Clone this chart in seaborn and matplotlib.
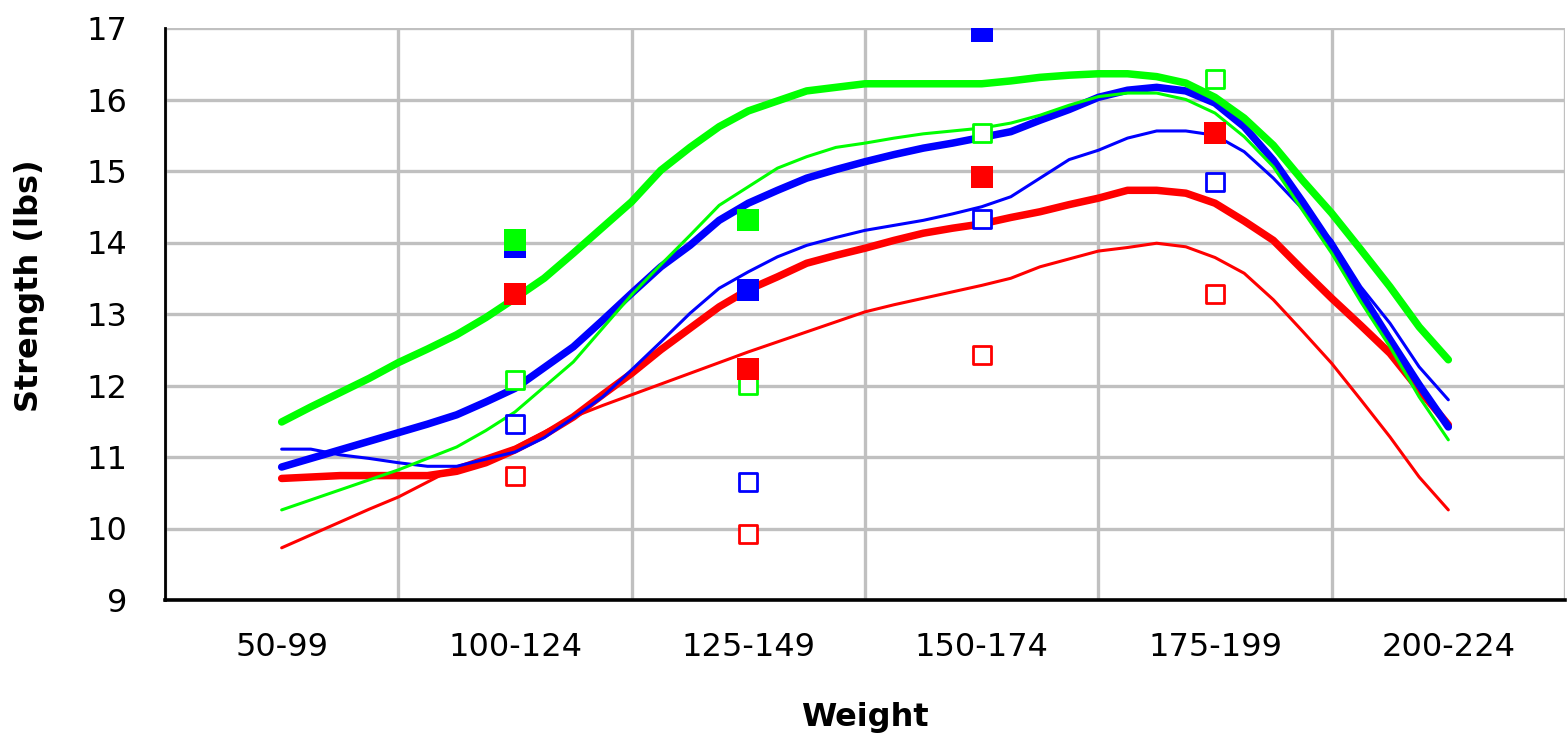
import numpy as np
import pandas as pd
import seaborn as sns
import matplotlib.pyplot as plt

# categories on the x axis
weights = ['50-99', '100-124', '125-149', '150-174', '175-199', '200-224']

# curve samples, 8 per weight class
steps = [k / 8 for k in range(41)]

green_thick = [11.49, 11.70, 11.90, 12.10, 12.32, 12.51, 12.71, 12.95, 13.22, 13.50,
               13.85, 14.21, 14.57, 15.01, 15.33, 15.62, 15.84, 15.98, 16.12, 16.17,
               16.22, 16.22, 16.22, 16.22, 16.22, 16.26, 16.31, 16.34, 16.36, 16.36,
               16.32, 16.23, 16.03, 15.74, 15.36, 14.87, 14.41, 13.90, 13.38, 12.82, 12.36]
blue_thick = [10.86, 10.98, 11.10, 11.22, 11.34, 11.46, 11.59, 11.77, 11.96, 12.25,
              12.54, 12.91, 13.29, 13.66, 13.96, 14.31, 14.55, 14.73, 14.90, 15.02,
              15.13, 15.23, 15.32, 15.39, 15.47, 15.55, 15.71, 15.86, 16.03, 16.13,
              16.17, 16.12, 15.95, 15.62, 15.15, 14.57, 13.96, 13.29, 12.64, 12.01, 11.42]
red_thick = [10.70, 10.72, 10.74, 10.74, 10.74, 10.74, 10.80, 10.92, 11.10, 11.31,
             11.56, 11.87, 12.17, 12.50, 12.80, 13.10, 13.34, 13.52, 13.71, 13.82,
             13.92, 14.03, 14.13, 14.20, 14.26, 14.35, 14.43, 14.53, 14.62, 14.73,
             14.73, 14.69, 14.55, 14.30, 14.03, 13.62, 13.22, 12.84, 12.45, 11.94, 11.45]
green_thin = [10.26, 10.40, 10.54, 10.68, 10.82, 10.98, 11.14, 11.37, 11.63, 11.98,
              12.33, 12.80, 13.27, 13.69, 14.10, 14.52, 14.78, 15.04, 15.20, 15.33,
              15.39, 15.46, 15.52, 15.56, 15.60, 15.67, 15.78, 15.92, 16.04, 16.09,
              16.09, 16.00, 15.81, 15.48, 15.06, 14.45, 13.85, 13.17, 12.54, 11.84, 11.24]
blue_thin = [11.11, 11.11, 11.03, 10.98, 10.92, 10.87, 10.87, 10.97, 11.07, 11.27,
             11.55, 11.84, 12.22, 12.61, 13.01, 13.36, 13.59, 13.80, 13.96, 14.07,
             14.17, 14.24, 14.31, 14.40, 14.50, 14.64, 14.90, 15.16, 15.29, 15.46,
             15.56, 15.56, 15.50, 15.27, 14.90, 14.47, 14.03, 13.38, 12.87, 12.26, 11.80]
red_thin = [9.73, 9.91, 10.09, 10.27, 10.44, 10.65, 10.86, 11.00, 11.14, 11.35,
            11.56, 11.72, 11.87, 12.02, 12.17, 12.32, 12.47, 12.61, 12.75, 12.89,
            13.03, 13.13, 13.22, 13.31, 13.40, 13.50, 13.66, 13.77, 13.88, 13.93,
            13.99, 13.94, 13.79, 13.57, 13.20, 12.76, 12.31, 11.80, 11.28, 10.72, 10.26]

# measured points (filled = thick series, open = thin series)
filled_red_x = [1, 2, 3, 4]
filled_red = [13.28, 12.23, 14.91, 15.53]
filled_blue_x = [1, 2, 3]
filled_blue = [13.94, 13.33, 16.96]
filled_green_x = [1, 2]
filled_green = [14.04, 14.32]
open_red_x = [1, 2, 3, 4]
open_red = [10.74, 9.92, 12.42, 13.28]
open_blue_x = [1, 2, 3, 4]
open_blue = [11.46, 10.65, 14.33, 14.85]
open_green_x = [1, 2, 3, 4]
open_green = [12.07, 12.01, 15.53, 16.29]

RED, BLUE, GREEN = '#FF0000', '#0000FF', '#00FF00'

sns.set_style('white')
plt.rcParams['font.family'] = ['DejaVu Sans']
plt.rcParams['text.color'] = 'black'
plt.rcParams['axes.labelcolor'] = 'black'
plt.rcParams['xtick.color'] = 'black'
plt.rcParams['ytick.color'] = 'black'

fig, ax = plt.subplots(figsize=(15.68, 7.35), dpi=100)
fig.subplots_adjust(left=165 / 1568, right=1565 / 1568, top=1 - 28 / 735, bottom=1 - 600 / 735)

curves = pd.DataFrame({'x': steps,
                       'red_thick': red_thick, 'blue_thick': blue_thick, 'green_thick': green_thick,
                       'red_thin': red_thin, 'blue_thin': blue_thin, 'green_thin': green_thin})

# thick lines first, thin on top
for col, c, lw in [('red_thick', RED, 5.4), ('blue_thick', BLUE, 5.4), ('green_thick', GREEN, 5.4),
                   ('red_thin', RED, 2.2), ('blue_thin', BLUE, 2.2), ('green_thin', GREEN, 2.2)]:
    sns.lineplot(data=curves, x='x', y=col, color=c, linewidth=lw, sort=False,
                 estimator=None, ax=ax, zorder=3)

# open squares, then filled squares
for xs, ys, c in [(open_red_x, open_red, RED), (open_blue_x, open_blue, BLUE),
                  (open_green_x, open_green, GREEN)]:
    sns.scatterplot(x=xs, y=ys, marker='s', s=175, facecolor='white', edgecolor=c,
                    linewidth=2.0, ax=ax, zorder=4)
for xs, ys, c in [(filled_red_x, filled_red, RED), (filled_blue_x, filled_blue, BLUE),
                  (filled_green_x, filled_green, GREEN)]:
    sns.scatterplot(x=xs, y=ys, marker='s', s=230, color=c, linewidth=0, ax=ax, zorder=5)

ax.set_xlim(-0.5, 5.5)
ax.set_ylim(9, 17)
ax.set_yticks(range(9, 18))
ax.set_xticks(np.arange(-0.5, 6, 1))
ax.set_xticklabels([])
ax.set_xticks(range(len(weights)), minor=True)
ax.set_xticklabels(weights, minor=True)

ax.grid(True, which='major', color='#C0C0C0', linewidth=2.4)
ax.set_axisbelow(True)
ax.tick_params(axis='x', which='major', length=10, width=2, color='black', direction='out')
ax.tick_params(axis='x', which='minor', length=0, pad=23, labelsize=23)
ax.tick_params(axis='y', length=10, width=2, color='black', direction='out', pad=17, labelsize=23)

for side in ['top', 'right']:
    ax.spines[side].set_visible(False)
ax.spines['left'].set_linewidth(2)
ax.spines['left'].set_color('black')
ax.spines['bottom'].set_linewidth(2.6)
ax.spines['bottom'].set_color('black')

ax.set_xlabel('Weight', fontsize=23, fontweight='bold')
ax.set_ylabel('Strength (lbs)', fontsize=23, fontweight='bold')
ax.xaxis.set_label_coords(0.5, -0.178)
ax.yaxis.set_label_coords(-0.086, 0.55)

plt.savefig('out.png', dpi=100)
